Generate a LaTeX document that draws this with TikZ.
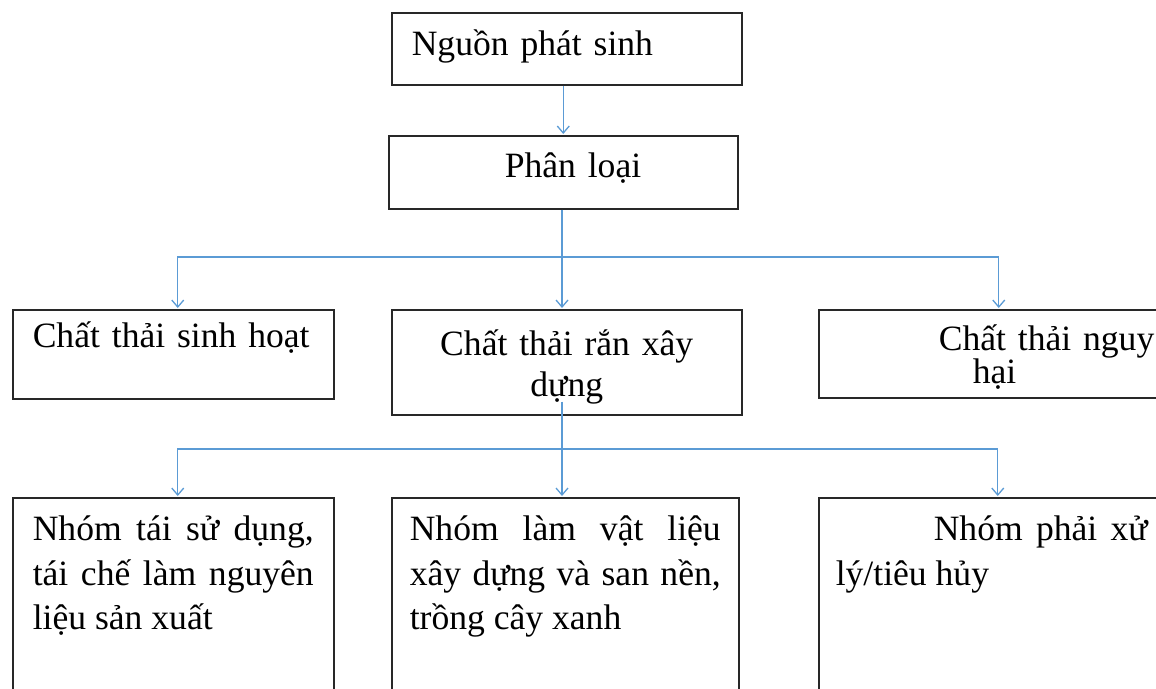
\documentclass[tikz,border=0pt]{standalone}
\usepackage{fontspec}
\setmainfont{Liberation Serif}
\usetikzlibrary{arrows.meta}
\definecolor{linkblue}{RGB}{91,155,213}
\definecolor{boxline}{RGB}{40,40,40}
\hyphenpenalty=10000
\exhyphenpenalty=10000

\begin{document}
\begin{tikzpicture}[
  x=1pt, y=-1pt,
  >={Straight Barb[length=7pt,width=12pt]},
  box/.style={draw=boxline, line width=1.5pt, anchor=north west,
    inner xsep=20pt, inner ysep=0pt, align=left,
    font=\fontsize{35.6}{44.5}\selectfont},
  link/.style={draw=linkblue, line width=1.3pt},
  arr/.style={link, ->, shorten >=1pt},
]

  % Page frame, picture is cut at the right and bottom
  \clip (0,0) rectangle (1156,688);

  % --- Top: source and classification ---
  \node[box, text width=310pt, text height=43pt, text depth=29pt]
    (src) at (391,12) {Nguồn phát sinh};
  \node[box, text width=309pt, text height=42pt, text depth=31pt]
    (cls) at (388,135) {\hspace*{96pt}Phân loại};

  % --- Row 2: kinds of waste ---
  \node[box, text width=281pt, text height=38pt, text depth=51pt]
    (ctsh) at (12,309) {Chất thải sinh hoạt};
  \node[box, text width=310pt, text height=46pt, text depth=59pt, align=center,
    font=\fontsize{35.6}{41}\selectfont]
    (cttr) at (391,309) {Chất thải rắn xây\\dựng};
  \node[box, text width=320pt, text height=41pt, text depth=47pt,
    font=\fontsize{35.6}{33}\selectfont]
    (ctnh) at (818,309) {\hspace*{100pt}Chất thải nguy\\\hspace*{134pt}hại};

  % --- Row 3: groups of construction waste ---
  \node[box, text width=281pt, text height=43pt, text depth=200pt, align=justify]
    (grpreuse) at (12,497)
    {Nhóm tái sử dụng,\linebreak tái chế làm nguyên\linebreak liệu sản xuất};
  \node[box, text width=311pt, inner xsep=18pt, text height=43pt, text depth=200pt,
    align=justify]
    (grpmat) at (391,497)
    {Nhóm làm vật liệu\linebreak xây dựng và san nền,\linebreak trồng cây xanh};
  \node[box, text width=312pt, inner xsep=17pt, text height=43pt, text depth=200pt,
    align=justify]
    (grptreat) at (818,497)
    {\hspace*{98pt}Nhóm phải xử\linebreak lý/tiêu hủy};

  % --- Connectors ---
  \coordinate (split1) at (562,257);
  \coordinate (split2) at (562,449);

  \draw[arr] (cls.north |- src.south) -- (cls.north);
  \draw[link] (split1 |- cls.south) -- (split1);
  \draw[arr] (split1) -- (split1 |- cttr.north);
  \draw[arr] (split1) -| ([xshift=4.5pt]ctsh.north);
  \draw[arr] (split1) -| (ctnh.north);

  \draw[link] (split2 |- cttr.south) ++(0,-14) -- (split2);
  \draw[arr] (split2) -- (split2 |- grpmat.north);
  \draw[arr] (split2) -| ([xshift=4.5pt]grpreuse.north);
  \draw[arr] (split2) -| ([xshift=6pt]grptreat.north);

\end{tikzpicture}
\end{document}
